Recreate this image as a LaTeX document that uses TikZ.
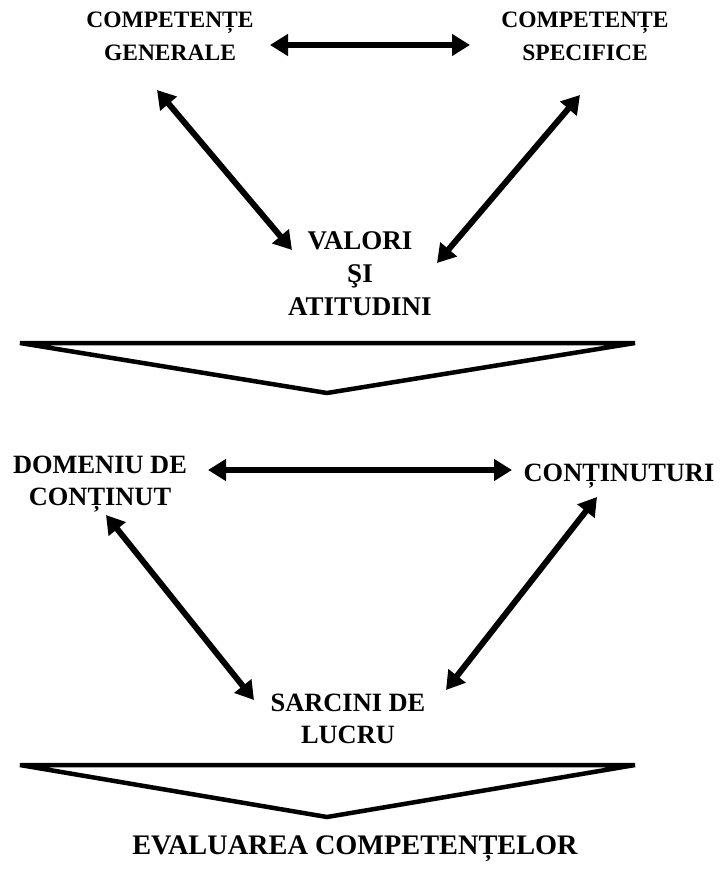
\documentclass[tikz,border=0pt]{standalone}
\usepackage{fontspec}
\setmainfont{Liberation Serif}
\usetikzlibrary{arrows.meta}
\begin{document}
\begin{tikzpicture}[x=1pt,y=-1pt,
  lbl/.style={font=\bfseries\fontsize{23.5}{33}\selectfont, align=center, inner sep=0pt},
  lblv/.style={font=\bfseries\fontsize{27}{33}\selectfont, align=center, inner sep=0pt},
  lblm/.style={font=\bfseries\fontsize{26.4}{32}\selectfont, align=center, inner sep=0pt},
  lblb/.style={font=\bfseries\fontsize{28.3}{34}\selectfont, align=center, inner sep=0pt},
  dbl/.style={line width=6pt, {Triangle[length=18pt,width=21pt]}-{Triangle[length=18pt,width=21pt]}},
  tri/.style={line width=4.5pt, line join=miter}]
\useasboundingbox (0,0) rectangle (722,890);
% labels
\node[lbl] (cg) at (170,36) {COMPETENȚE\\GENERALE};
\node[lbl] (cs) at (585,36) {COMPETENȚE\\SPECIFICE};
\node[lblv] (va) at (360,274) {VALORI\\ŞI\\ATITUDINI};
\node[lblm] (dc) at (100,484) {DOMENIU DE\\CONȚINUT};
\node[lblm] (ct) at (619,476) {CONȚINUTURI};
\node[lblm] (sl) at (348,719) {SARCINI DE\\LUCRU};
\node[lblb] (ev) at (355,849) {EVALUAREA COMPETENȚELOR};
% arrow ends
\coordinate (a1) at (270,45);  \coordinate (a2) at (470,45);
\coordinate (b1) at (157,90);  \coordinate (b2) at (292,250);
\coordinate (c1) at (580,95);  \coordinate (c2) at (437,263);
\coordinate (d1) at (208,470); \coordinate (d2) at (512,470);
\coordinate (e1) at (106,515); \coordinate (e2) at (254,700);
\coordinate (f1) at (597,497); \coordinate (f2) at (446,690);
\draw[dbl] (a1) -- (a2);
\draw[dbl] (b1) -- (b2);
\draw[dbl] (c1) -- (c2);
\draw[dbl] (d1) -- (d2);
\draw[dbl] (e1) -- (e2);
\draw[dbl] (f1) -- (f2);
% funnels
\coordinate (t1l) at (20,343); \coordinate (t1r) at (635,343); \coordinate (t1b) at (327,393);
\coordinate (t2l) at (20,765); \coordinate (t2r) at (635,765); \coordinate (t2b) at (327,817);
\draw[tri] (t1l) -- (t1r) -- (t1b) -- cycle;
\draw[tri] (t2l) -- (t2r) -- (t2b) -- cycle;
\end{tikzpicture}
\end{document}
